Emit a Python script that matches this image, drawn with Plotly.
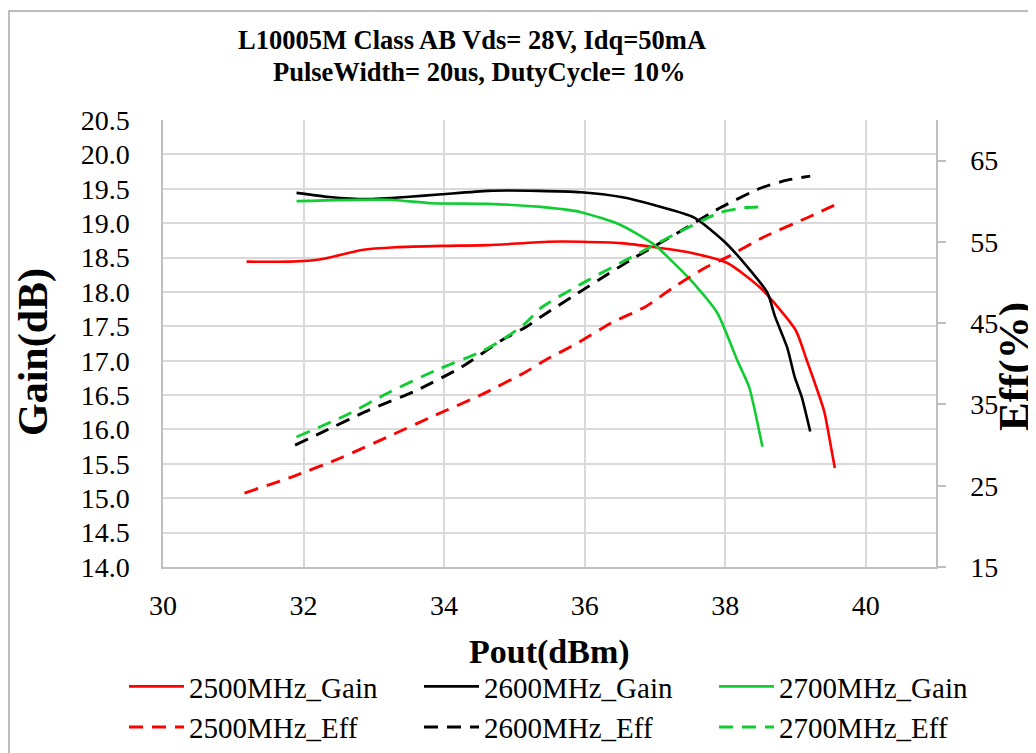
import plotly.graph_objects as go

# ---------------- data ----------------
pout_2500_gain = [31.19, 31.80, 32.27, 32.83, 33.31, 33.97, 34.63, 35.48, 35.95, 36.52, 37.00, 37.51, 38.03, 38.50, 39.00, 39.16, 39.41, 39.48, 39.56]
gain_2500 = [18.44, 18.44, 18.48, 18.61, 18.65, 18.67, 18.68, 18.73, 18.73, 18.71, 18.65, 18.57, 18.42, 18.06, 17.45, 17.01, 16.26, 15.89, 15.44]

pout_2600_gain = [31.90, 32.37, 32.89, 33.46, 33.97, 34.63, 35.34, 35.95, 36.52, 37.00, 37.56, 37.99, 38.27, 38.60, 38.71, 38.88, 38.99, 39.09, 39.21]
gain_2600 = [19.44, 19.38, 19.35, 19.38, 19.42, 19.47, 19.47, 19.45, 19.38, 19.26, 19.08, 18.73, 18.42, 17.99, 17.64, 17.20, 16.76, 16.47, 15.97]

pout_2700_gain = [31.90, 33.22, 33.82, 34.63, 35.34, 35.95, 36.52, 37.00, 37.22, 37.51, 37.89, 38.17, 38.34, 38.41, 38.53]
gain_2700 = [19.32, 19.34, 19.29, 19.28, 19.24, 19.16, 18.97, 18.68, 18.47, 18.17, 17.69, 17.01, 16.62, 16.33, 15.75]

pout_2500_eff = [31.16, 31.84, 32.55, 33.22, 33.88, 34.53, 35.16, 35.45, 35.91, 36.37, 36.86, 37.28, 37.71, 38.00, 38.55, 39.20, 39.55]
eff_2500 = [24.1, 26.1, 28.5, 31.1, 33.7, 36.2, 39.0, 40.5, 42.6, 45.0, 47.0, 49.5, 51.8, 53.0, 55.6, 58.1, 59.5]

pout_2600_eff = [31.88, 32.27, 32.93, 33.60, 34.25, 34.82, 35.16, 35.38, 36.05, 36.66, 37.32, 37.93, 38.50, 38.88, 39.21]
eff_2600 = [30.0, 31.6, 34.3, 36.7, 39.6, 42.9, 44.5, 45.8, 49.5, 52.8, 56.1, 59.2, 61.6, 62.6, 63.1]

pout_2700_eff = [31.90, 32.61, 33.22, 33.88, 34.53, 34.82, 35.16, 35.38, 36.05, 36.66, 37.32, 37.92, 38.27, 38.53]
eff_2700 = [31.0, 33.7, 36.5, 39.2, 41.5, 42.9, 45.0, 46.9, 50.3, 53.1, 56.1, 58.6, 59.2, 59.3]

names = ["2500MHz_Gain", "2600MHz_Gain", "2700MHz_Gain", "2500MHz_Eff", "2600MHz_Eff", "2700MHz_Eff"]
title_lines = ["L10005M Class AB Vds= 28V, Idq=50mA", "PulseWidth= 20us, DutyCycle= 10%"]

RED, BLACK, GREEN = "#FF0000", "#000000", "#11CC33"
SERIF = "Liberation Serif"

# page geometry: the page body adds an 8 px offset, so targets are shifted by OFF
W, H = 1036, 753
OFF = 8
L, R, T, B = 163 - OFF, 936 - OFF, 120 - OFF, 567 - OFF
pw, ph = R - L, B - T
def px(x):
    return (x - OFF - L) / pw
def py(y):
    return (B - (y - OFF)) / ph

fig = go.Figure()
series = [
    (pout_2500_gain, gain_2500, RED, "solid", "y", 2.6),
    (pout_2600_gain, gain_2600, BLACK, "solid", "y", 2.6),
    (pout_2700_gain, gain_2700, GREEN, "solid", "y", 2.6),
    (pout_2500_eff, eff_2500, RED, "14px,9px", "y2", 2.9),
    (pout_2600_eff, eff_2600, BLACK, "14px,9px", "y2", 2.9),
    (pout_2700_eff, eff_2700, GREEN, "14px,9px", "y2", 2.9),
]
for (xs, ys, col, dash, ax, lw), nm in zip(series, names):
    fig.add_trace(go.Scatter(
        x=xs, y=ys, mode="lines", name=nm, yaxis=ax,
        line=dict(color=col, width=lw, dash=dash, shape="spline", smoothing=0.6),
    ))

tickfont = dict(family=SERIF, size=28, color="black")
fig.update_layout(
    width=W, height=H,
    margin=dict(l=L, r=W - R, t=T, b=H - B, autoexpand=False),
    plot_bgcolor="white", paper_bgcolor="white",
    showlegend=True,
    xaxis=dict(range=[30, 41], tick0=30, dtick=2, showgrid=True, gridcolor="#D9D9D9", gridwidth=1.5,
               showline=True, linecolor="#BFBFBF", linewidth=1.5, ticks="", zeroline=False,
               tickfont=tickfont, ticklabelstandoff=13, automargin=False),
    yaxis=dict(range=[14, 20.5], tick0=14, dtick=0.5, tickformat=".1f", showgrid=True, gridcolor="#D9D9D9",
               gridwidth=1.5, showline=True, linecolor="#BFBFBF", linewidth=1.5, ticks="", zeroline=False,
               tickfont=tickfont, ticklabelstandoff=26, automargin=False),
    yaxis2=dict(range=[15, 70], tick0=15, dtick=10, overlaying="y", side="right", showgrid=False,
                showline=True, linecolor="#BFBFBF", linewidth=1.5, ticks="outside", ticklen=8,
                tickcolor="#BFBFBF", tickwidth=1.5, zeroline=False, tickfont=tickfont,
                ticklabelstandoff=19, automargin=False),
    legend=dict(orientation="h", x=px(124), xanchor="left", y=py(661), yanchor="top",
                entrywidth=225, entrywidthmode="pixels", traceorder="normal",
                font=dict(family=SERIF, size=29, color="black"), bgcolor="rgba(0,0,0,0)",
                itemwidth=55),
    annotations=[
        dict(text="<b>" + title_lines[0] + "</b>", x=px(472), y=py(40), xref="paper", yref="paper",
             xanchor="center", yanchor="middle",
             showarrow=False, font=dict(family=SERIF, size=26.5, color="black")),
        dict(text="<b>" + title_lines[1] + "</b>", x=px(479), y=py(72), xref="paper", yref="paper",
             xanchor="center", yanchor="middle",
             showarrow=False, font=dict(family=SERIF, size=26.5, color="black")),
        dict(text="<b>Gain(dB)</b>", x=px(33), y=py(352), xref="paper", yref="paper", textangle=-90,
             xanchor="center", yanchor="middle",
             showarrow=False, font=dict(family=SERIF, size=42, color="black")),
        dict(text="<b>Eff(%)</b>", x=px(1014), y=py(367), xref="paper", yref="paper", textangle=-90,
             xanchor="center", yanchor="middle",
             showarrow=False, font=dict(family=SERIF, size=43, color="black")),
        dict(text="<b>Pout(dBm)</b>", x=px(549), y=py(652), xref="paper", yref="paper",
             xanchor="center", yanchor="middle",
             showarrow=False, font=dict(family=SERIF, size=34, color="black")),
    ],
    shapes=[
        dict(type="rect", xref="paper", yref="paper", x0=px(9), x1=px(1060), y0=py(775), y1=py(11),
             line=dict(color="#A6A6A6", width=1.5), fillcolor="rgba(0,0,0,0)", layer="below"),
    ],
)

fig.write_html("out.html")
